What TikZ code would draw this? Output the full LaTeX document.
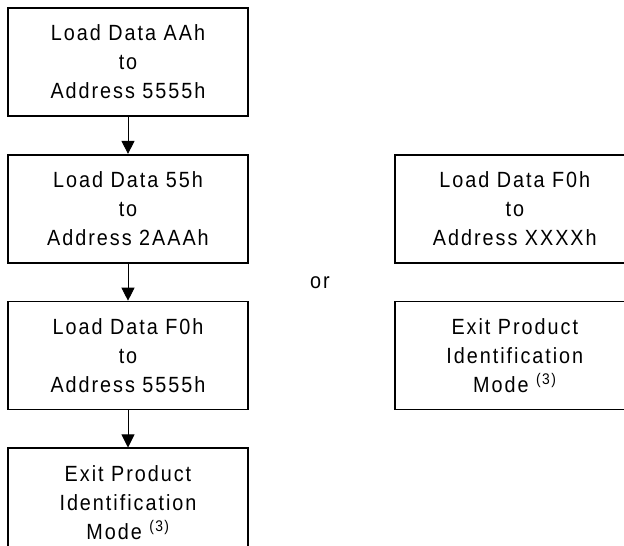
\documentclass[tikz,border=0pt]{standalone}
\usepackage{fontspec}
\setmainfont{Liberation Sans}[FakeStretch=0.9,LetterSpace=9]
\usetikzlibrary{positioning,arrows.meta}

\begin{document}
\begin{tikzpicture}[x=1pt,y=1pt,
  stepbox/.style={draw,line width=1.8pt,minimum width=240pt,minimum height=108pt,
    inner sep=0pt,align=center,font=\fontsize{22}{29}\selectfont},
  flow/.style={-{Triangle[width=13pt,length=13pt]},line width=0.9pt}]
  \useasboundingbox (0,0) rectangle (624,546);
  \clip (0,0) rectangle (624,546);

  % Left column
  \node[stepbox] (aa) at (128,484) {Load Data AAh\\to\\Address 5555h};
  \node[stepbox,below=37pt of aa] (fivefive) {Load Data 55h\\to\\Address 2AAAh};
  \node[stepbox,below=37pt of fivefive] (fzero) {Load Data F0h\\to\\Address 5555h};
  \node[stepbox,below=37pt of fzero] (exitl) {Exit Product\\Identification\\Mode~\textsuperscript{(3)}};

  % Arrows
  \draw[flow] (aa) -- (fivefive);
  \draw[flow] (fivefive) -- (fzero);
  \draw[flow] (fzero) -- (exitl);

  % Right column
  \node[stepbox,right=145pt of fivefive] (fzerox) {Load Data F0h\\to\\Address XXXXh};
  \node[stepbox,below=37pt of fzerox] (exitr) {Exit Product\\Identification\\Mode~\textsuperscript{(3)}};

  % Alternative
  \node[font=\fontsize{22}{29}\selectfont] (or) at (320,263) {or};
\end{tikzpicture}
\end{document}
